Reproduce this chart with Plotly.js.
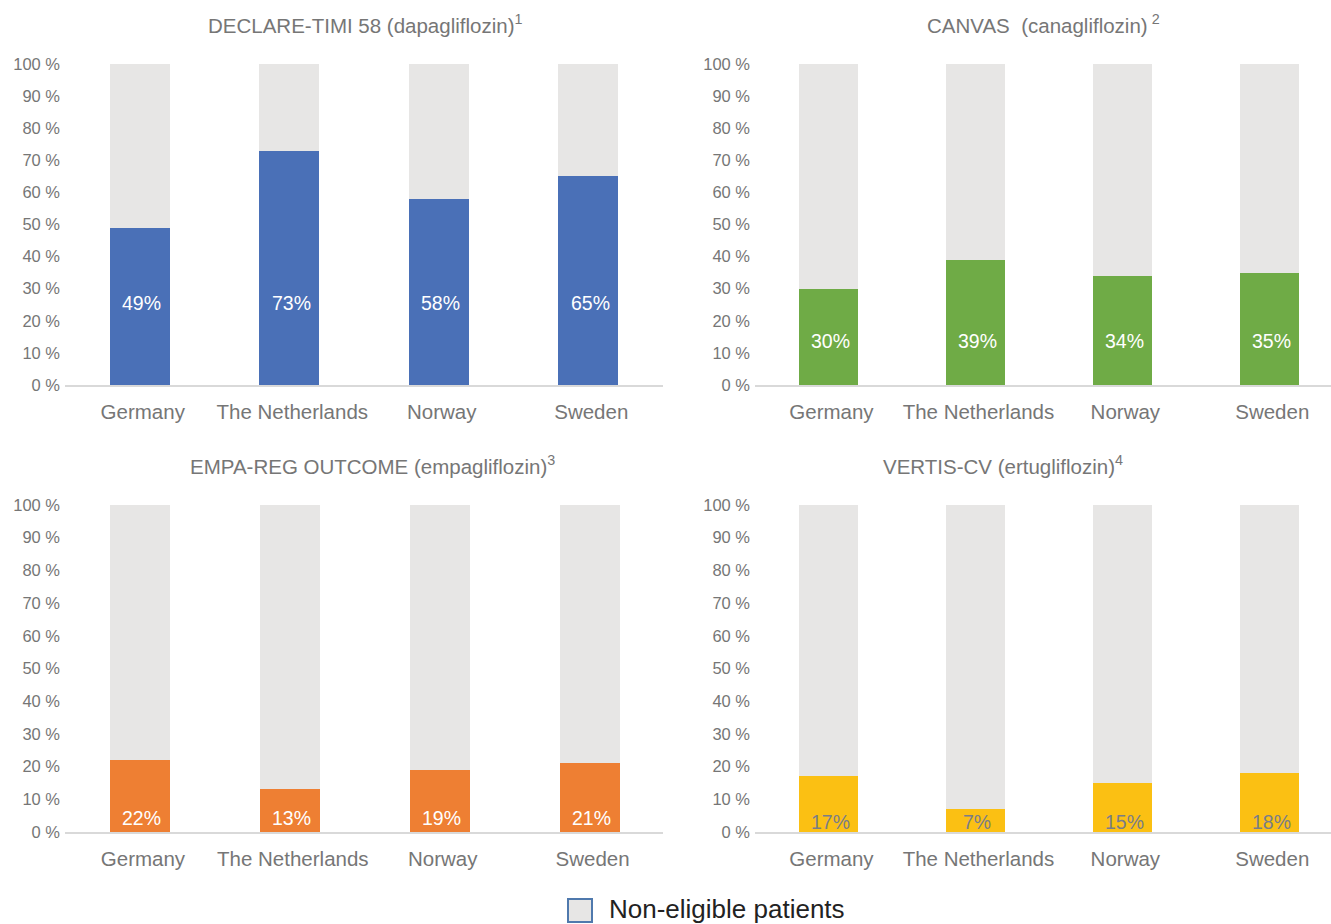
<!DOCTYPE html>
<html>
<head>
<meta charset="utf-8">
<script src="https://cdn.plot.ly/plotly-3.0.1.min.js"></script>
<style>html,body{margin:0;padding:0;background:#fff;}#chart{width:1331px;height:924px;}</style>
</head>
<body>
<div id="chart"></div>
<script>
const countries = ["Germany", "The Netherlands", "Norway", "Sweden"];
const declareEligible = [49, 73, 58, 65];
const declareNon = [51, 27, 42, 35];
const canvasEligible = [30, 39, 34, 35];
const canvasNon = [70, 61, 66, 65];
const empaEligible = [22, 13, 19, 21];
const empaNon = [78, 87, 81, 79];
const vertisEligible = [17, 7, 15, 18];
const vertisNon = [83, 93, 85, 82];
const yTickVals = [0,10,20,30,40,50,60,70,80,90,100];
const yTickText = ["0 %","10 %","20 %","30 %","40 %","50 %","60 %","70 %","80 %","90 %","100 %"];
const titles = [
  "DECLARE-TIMI 58 (dapagliflozin)<sup>1</sup>",
  "CANVAS&nbsp; (canagliflozin)<sup> 2</sup>",
  "EMPA-REG OUTCOME (empagliflozin)<sup>3</sup>",
  "VERTIS-CV (ertugliflozin)<sup>4</sup>"
];
const legendLabel = "Non-eligible patients";

const FONT = "Liberation Sans, Arial, Helvetica, sans-serif";
const GREY = "#e7e6e5";
const panels = [
  {elig: declareEligible, non: declareNon, color: "#4a70b7", lab: "#ffffff", labY: 25.5},
  {elig: canvasEligible, non: canvasNon, color: "#6fab46", lab: "#ffffff", labY: 13.7},
  {elig: empaEligible, non: empaNon, color: "#ee7f33", lab: "#ffffff", labY: 4.3},
  {elig: vertisEligible, non: vertisNon, color: "#fbc013", lab: "#7a7d88", labY: 3.0}
];
const W = 1331, H = 924;
const xDomains = [[65/W, 663/W], [755/W, 1], [65/W, 663/W], [755/W, 1]];
const yDomains = [[1-385/H, 1-64/H], [1-385/H, 1-64/H], [1-832/H, 1-505/H], [1-832/H, 1-505/H]];
const xRanges = [[-0.5, 3.5], [-0.5, 3.42], [-0.5, 3.49], [-0.5, 3.42]];
const titleX = [365, 1043, 372, 1003];

const traces = [];
const annotations = [];
const layout = {
  width: W, height: H,
  margin: {l: 0, r: 0, t: 0, b: 0},
  paper_bgcolor: "#fff", plot_bgcolor: "#fff",
  barmode: "stack",
  showlegend: false,
  font: {family: FONT, color: "#767676"},
  annotations: annotations,
  shapes: []
};

panels.forEach((p, i) => {
  const n = i === 0 ? "" : String(i + 1);
  const xa = "x" + n, ya = "y" + n;
  traces.push({
    type: "bar", x: countries, y: p.elig, xaxis: xa, yaxis: ya,
    width: 0.4, marker: {color: p.color, line: {width: 0}},
    hoverinfo: "y"
  });
  traces.push({
    type: "bar", x: countries, y: p.non, xaxis: xa, yaxis: ya,
    width: 0.4, marker: {color: GREY, line: {width: 0}},
    hoverinfo: "y"
  });
  layout["xaxis" + n] = {
    domain: xDomains[i], anchor: ya, range: xRanges[i],
    showline: true, linecolor: "#d9d9d9", linewidth: 1.5,
    showgrid: false, zeroline: false, ticks: "",
    tickfont: {size: 20.5, color: "#767676", family: FONT},
    ticklabelstandoff: 8, ticklabelshift: 3, fixedrange: true
  };
  layout["yaxis" + n] = {
    domain: yDomains[i], anchor: xa, range: [0, 100],
    showline: false, showgrid: false, zeroline: false, ticks: "",
    tickvals: yTickVals, ticktext: yTickText,
    tickfont: {size: 16.5, color: "#767676", family: FONT},
    ticklabelstandoff: 4, fixedrange: true
  };
  p.elig.forEach((v, j) => {
    annotations.push({
      xref: xa, yref: ya, x: countries[j], y: p.labY,
      text: v + "%", showarrow: false, xshift: 2,
      font: {size: 19.5, color: p.lab, family: FONT}
    });
  });
  annotations.push({
    xref: "paper", yref: "paper",
    x: titleX[i] / W, xanchor: "center",
    y: yDomains[i][1] + 40 / H, yanchor: "middle",
    text: titles[i], showarrow: false,
    font: {size: 20.5, color: "#767676", family: FONT}
  });
});

layout.shapes.push({
  type: "rect", xref: "paper", yref: "paper",
  x0: 568/W, x1: 592/W, y0: 1-922/H, y1: 1-899/H,
  fillcolor: GREY, line: {color: "#4f79ad", width: 2}
});
annotations.push({
  xref: "paper", yref: "paper", x: 607/W, y: 1-909/H,
  xanchor: "left", yanchor: "middle", text: legendLabel, showarrow: false,
  font: {size: 26, color: "#222222", family: FONT}
});

Plotly.newPlot("chart", traces, layout, {displayModeBar: false, staticPlot: true});
</script>
</body>
</html>
